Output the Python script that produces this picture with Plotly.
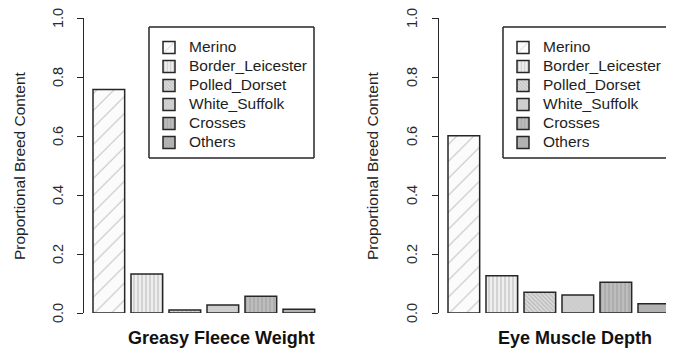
import plotly.graph_objects as go

# ---- data -------------------------------------------------------------
breeds = ["Merino", "Border_Leicester", "Polled_Dorset",
          "White_Suffolk", "Crosses", "Others"]
greasy_fleece_weight = [0.758, 0.132, 0.010, 0.027, 0.057, 0.013]
eye_muscle_depth = [0.601, 0.126, 0.070, 0.061, 0.104, 0.031]
panel_titles = ["Greasy Fleece Weight", "Eye Muscle Depth"]
y_tick_vals = [0.0, 0.2, 0.4, 0.6, 0.8, 1.0]
y_tick_text = ["0.0", "0.2", "0.4", "0.6", "0.8", "1.0"]
y_label = "Proportional Breed Content"

# ---- styling ------------------------------------------------------------
W, H = 673, 349
FONT = "Liberation Sans, Arial, sans-serif"
INK = "#262626"

# fill / hatch for each breed: (background, hatch shape, hatch colour, spacing, solidity)
hatch = {
    "Merino":           ("#fbfbfb", "/",  "#8c8c8c", 12, 0.09),
    "Border_Leicester": ("#efefef", "|",  "#8a8a8a", 4,  0.28),
    "Polled_Dorset":    ("#dadada", "\\", "#8e8e8e", 3,  0.35),
    "White_Suffolk":    ("#d0d0d0", "x",  "#bcbcbc", 3,  0.25),
    "Crosses":          ("#bdbdbd", "|",  "#858585", 4,  0.28),
    "Others":           ("#b2b2b2", "",   "#b2b2b2", 4,  0.30),
}


def px_x(x):
    return x / W


def px_y(y):
    return 1 - y / H


fig = go.Figure()

panels = [
    (greasy_fleece_weight, "x", "y", "legend"),
    (eye_muscle_depth, "x2", "y2", "legend2"),
]
for values, xa, ya, leg in panels:
    for breed, v in zip(breeds, values):
        bg, shape, fg, size, sol = hatch[breed]
        fig.add_trace(go.Bar(
            x=[breed], y=[v], xaxis=xa, yaxis=ya, legend=leg,
            name='<span style="font-size:15.5px">%s</span>' % breed,
            marker=dict(
                color=bg,
                line=dict(color=INK, width=1.5),
                pattern=dict(shape=shape, fgcolor=fg, size=size,
                             solidity=sol, fillmode="overlay"),
            ),
            hoverinfo="x+y",
        ))

y_dom = [px_y(313), px_y(18)]
step = 38.0
x_left = -0.6535

yaxis_common = dict(
    range=[0, 1], domain=y_dom, tickvals=y_tick_vals,
    showticklabels=False,
    showline=True, linecolor=INK, linewidth=1.4, ticks="outside", ticklen=6,
    tickwidth=1.4, tickcolor=INK, showgrid=False, zeroline=False,
)
xaxis_common = dict(
    type="category", categoryorder="array", categoryarray=breeds,
    showticklabels=False, showline=False, showgrid=False, zeroline=False,
    ticks="",
)

legend_common = dict(
    y=px_y(33), xanchor="left", yanchor="top",
    bgcolor="rgba(0,0,0,0)", borderwidth=0,
    font=dict(family=FONT, size=11.85, color="#1e1e1e"),
    traceorder="normal",
)

fig.update_layout(
    width=W, height=H,
    margin=dict(l=0, r=0, t=0, b=0),
    paper_bgcolor="white", plot_bgcolor="white",
    barmode="overlay", bargap=0.2 / 1.2,
    font=dict(family=FONT, color=INK),
    xaxis=dict(xaxis_common, domain=[px_x(84), px_x(324)],
               range=[x_left, x_left + 240 / step]),
    yaxis=dict(yaxis_common, anchor="x"),
    xaxis2=dict(xaxis_common, domain=[px_x(439), px_x(666)],
                range=[x_left, x_left + 227 / step]),
    yaxis2=dict(yaxis_common, anchor="x2"),
    legend=dict(legend_common, x=px_x(149)),
    legend2=dict(legend_common, x=px_x(503)),
    showlegend=True,
)

# legend frames; the right-hand one runs off the canvas edge
frames = [
    [(149, 27, 314, 27), (314, 27, 314, 158), (149, 158, 314, 158),
     (149, 27, 149, 158)],
    [(503, 27, 666, 27), (503, 27, 503, 158), (503, 158, 666, 158)],
]
for segs in frames:
    for x0, y0, x1, y1 in segs:
        fig.add_shape(type="line", xref="paper", yref="paper",
                      x0=px_x(x0), y0=px_y(y0), x1=px_x(x1), y1=px_y(y1),
                      line=dict(color=INK, width=1.5))

# rotated y tick labels, axis titles and panel titles
for yref, xc in (("y", 58), ("y2", 412)):
    for v, t in zip(y_tick_vals, y_tick_text):
        fig.add_annotation(text=t, xref="paper", yref=yref,
                           x=px_x(xc), y=v, textangle=-90, showarrow=False,
                           xanchor="center", yanchor="middle",
                           font=dict(family=FONT, size=14.5, color="#2a2a2a"))
for xc in (20, 373):
    fig.add_annotation(text=y_label, xref="paper", yref="paper",
                       x=px_x(xc), y=px_y(166), textangle=-90,
                       showarrow=False, xanchor="center", yanchor="middle",
                       font=dict(family=FONT, size=15.5, color="#222222"))
for title, xc in zip(panel_titles, (221, 575)):
    fig.add_annotation(text="<b>%s</b>" % title, xref="paper", yref="paper",
                       x=px_x(xc), y=px_y(338), showarrow=False,
                       xanchor="center", yanchor="middle",
                       font=dict(family=FONT, size=18, color="#111111"))

fig.write_html("out.html")
